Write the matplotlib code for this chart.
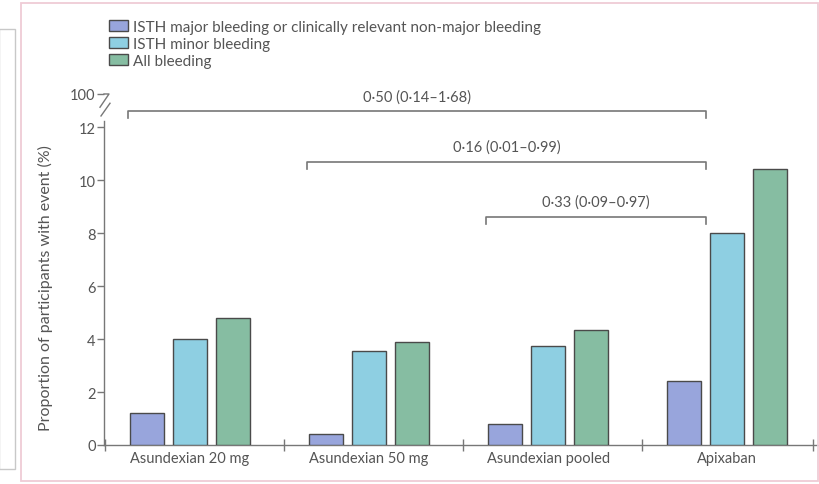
import matplotlib
matplotlib.use("Agg")
import matplotlib.pyplot as plt
from matplotlib.patches import Rectangle
from matplotlib.transforms import blended_transform_factory

plt.rcParams['font.family'] = ['Lato', 'DejaVu Sans']

categories = ["Asundexian 20 mg", "Asundexian 50 mg", "Asundexian pooled", "Apixaban"]
series_names = ["ISTH major bleeding or clinically relevant non-major bleeding",
                "ISTH minor bleeding", "All bleeding"]
major_crnm = [1.2, 0.4, 0.8, 2.4]
minor = [4.0, 3.55, 3.75, 8.0]
all_bleed = [4.8, 3.9, 4.35, 10.4]
series_values = [major_crnm, minor, all_bleed]
colors = ["#98a5dc", "#8ecfe2", "#86bda2"]

y_ticks = [0, 2, 4, 6, 8, 10, 12]
y_tick_labels = ["0", "2", "4", "6", "8", "10", "12"]
break_label = "100"

comparisons = [("0·50 (0·14–1·68)", 0, 3),
               ("0·16 (0·01–0·99)", 1, 3),
               ("0·33 (0·09–0·97)", 2, 3)]
bracket_levels = [12.6, 10.68, 8.6]

TXT = "#555555"
FS = 10.5
W, H = 820, 485
fig = plt.figure(figsize=(W / 100, H / 100), dpi=100)
ax = fig.add_axes([104 / W, 1 - 446 / H, 714 / W, 355 / H])
ax.set_xlim(-0.481, 3.508)
ax.set_ylim(0, 13.4)

pitch, width = 0.24, 0.19
for j, (vals, c, name) in enumerate(zip(series_values, colors, series_names)):
    xs = [i + (j - 1) * pitch for i in range(len(categories))]
    ax.bar(xs, vals, width=width, color=c, edgecolor="#4a4a4a", linewidth=1.0,
           label=name, zorder=3)

# spines
for s in ["top", "right"]:
    ax.spines[s].set_visible(False)
ax.spines["left"].set_bounds(0, 12.22)
for s in ["left", "bottom"]:
    ax.spines[s].set_color("#777777")
    ax.spines[s].set_linewidth(1.0)

# y ticks (with break value)
ax.set_yticks(y_ticks + [13.25])
ax.set_yticklabels(y_tick_labels + [break_label])
ax.tick_params(axis="y", direction="out", length=5, width=1.0, color="#777777",
               labelcolor=TXT, labelsize=FS, pad=1)

# x ticks: boundaries as major, categories as minor labels
ax.set_xticks([-0.475, 0.525, 1.525, 2.525, 3.48])
ax.set_xticklabels([])
ax.tick_params(axis="x", which="major", direction="inout", length=8, width=1.0,
               color="#777777")
ax.set_xticks(range(len(categories)), minor=True)
ax.set_xticklabels(categories, minor=True)
ax.tick_params(axis="x", which="minor", length=0, labelcolor=TXT, labelsize=FS, pad=4)

# axis break marks
tr = blended_transform_factory(ax.transAxes, ax.transData)
px = 1 / 714
ax.plot([0, 5 * px, -4 * px], [13.25, 13.25, 12.75], color="#777777", lw=1.0,
        transform=tr, clip_on=False)
ax.plot([6 * px, -3 * px], [12.9, 12.42], color="#777777", lw=1.0,
        transform=tr, clip_on=False)

ax.set_ylabel("Proportion of participants with event (%)", color=TXT, fontsize=11.5)
ax.yaxis.set_label_coords(-0.072, 0.445)

# comparison brackets
for (txt, a, b), lev in zip(comparisons, bracket_levels):
    x0 = a - 0.345
    x1 = b - 0.12
    ax.plot([x0, x0, x1, x1], [lev - 0.27, lev, lev, lev - 0.27], color="#777777",
            lw=1.2, clip_on=False, zorder=4)
    ax.text((x0 + x1) / 2, lev + 0.3, txt, ha="center", va="bottom", color=TXT,
            fontsize=FS)

# legend
fig.legend(loc="upper left", bbox_to_anchor=(109 / W, 1 - 21 / H), frameon=False,
           fontsize=11, handlelength=1.25, handleheight=0.7, labelspacing=0.2,
           handletextpad=0.3, borderaxespad=0, borderpad=0, labelcolor=TXT)

# panel frames
fig.patches.append(Rectangle((21 / W, 1 - 482 / H), 797 / W, 478 / H, fill=False,
                             edgecolor="#efcbd6", lw=1.3, transform=fig.transFigure))
fig.patches.append(Rectangle((-1 / W, 1 - 470 / H), 16 / W, 440 / H, fill=False,
                             edgecolor="#c8c8c8", lw=1.0, transform=fig.transFigure))

fig.savefig("out.png", dpi=100)
